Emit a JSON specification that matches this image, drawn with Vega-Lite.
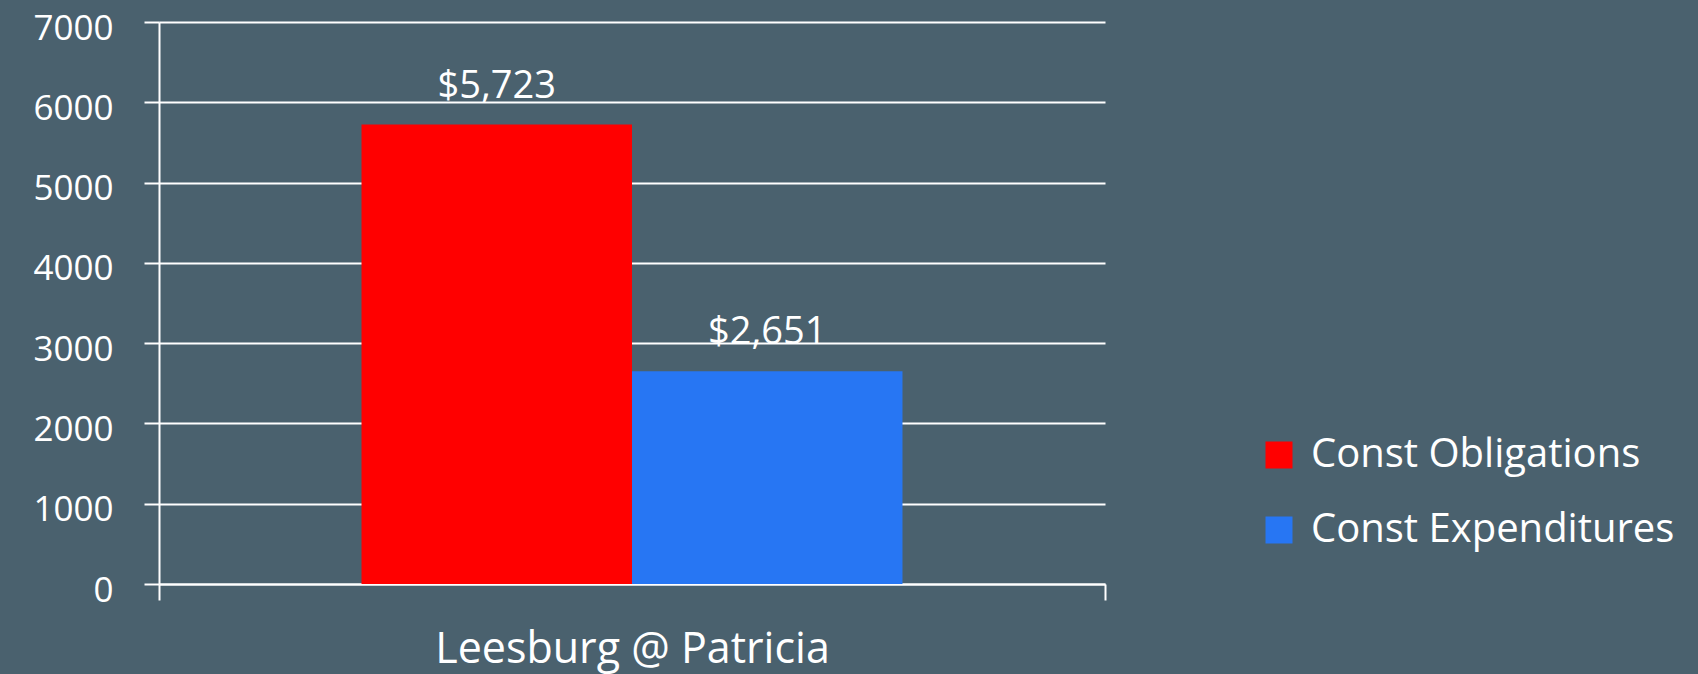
{
  "$schema": "https://vega.github.io/schema/vega-lite/v6.json",
  "autosize": "none",
  "width": 946,
  "height": 562,
  "padding": {"left": 159, "top": 22, "right": 593, "bottom": 90},
  "background": "#4a616e",
  "config": {
    "view": {"stroke": null},
    "font": "Open Sans",
    "text": {"font": "Open Sans"}
  },
  "data": {
    "values": [
      {"location": "Leesburg @ Patricia", "series": "Const Obligations", "value": 5723},
      {"location": "Leesburg @ Patricia", "series": "Const Expenditures", "value": 2651}
    ]
  },
  "encoding": {
    "x": {
      "field": "location",
      "type": "nominal",
      "scale": {"paddingInner": 0, "paddingOuter": 0},
      "axis": {
        "title": null,
        "labelAngle": 0,
        "labelFont": "Open Sans",
        "labelFontSize": 43,
        "labelLimit": 0,
        "labelColor": "#ffffff",
        "labelBaseline": "alphabetic",
        "labelPadding": 62,
        "tickBand": "extent",
        "tickSize": 16,
        "tickColor": "#ffffff",
        "tickWidth": 2,
        "domainColor": "#ffffff",
        "domainWidth": 2,
        "grid": false
      }
    },
    "xOffset": {
      "field": "series",
      "type": "nominal",
      "sort": ["Const Obligations", "Const Expenditures"],
      "scale": {"paddingInner": 0, "paddingOuter": 0.7487}
    },
    "y": {
      "field": "value",
      "type": "quantitative",
      "scale": {"domain": [0, 7000], "nice": false},
      "axis": {
        "title": null,
        "values": [0, 1000, 2000, 3000, 4000, 5000, 6000, 7000],
        "format": "d",
        "labelFont": "Open Sans",
        "labelFontSize": 35,
        "labelOffset": 6,
        "labelColor": "#ffffff",
        "labelPadding": 31,
        "tickSize": 15,
        "tickColor": "#ffffff",
        "tickWidth": 2,
        "domainColor": "#ffffff",
        "domainWidth": 2,
        "grid": true,
        "gridColor": "#ffffff",
        "gridWidth": 2,
        "gridOpacity": 1
      }
    }
  },
  "layer": [
    {
      "mark": {"type": "bar"},
      "encoding": {
        "color": {
          "field": "series",
          "type": "nominal",
          "sort": ["Const Obligations", "Const Expenditures"],
          "scale": {"domain": ["Const Obligations", "Const Expenditures"], "range": ["#ff0000", "#2776f3"]},
          "legend": {
            "title": null,
            "orient": "none",
            "legendX": 1100,
            "legendY": 413,
            "padding": 0,
            "symbolType": "square",
            "symbolSize": 729,
            "symbolStrokeWidth": 0,
            "symbolOpacity": 1,
            "labelFont": "Open Sans",
            "labelFontSize": 40,
            "labelColor": "#ffffff",
            "labelOffset": 12,
            "rowPadding": 35,
            "labelLimit": 600
          }
        }
      }
    },
    {
      "mark": {"type": "text", "baseline": "alphabetic", "dy": -27, "fontSize": 38, "color": "#ffffff", "font": "Open Sans"},
      "encoding": {
        "text": {"field": "value", "type": "quantitative", "format": "$,.0f"}
      }
    }
  ]
}
